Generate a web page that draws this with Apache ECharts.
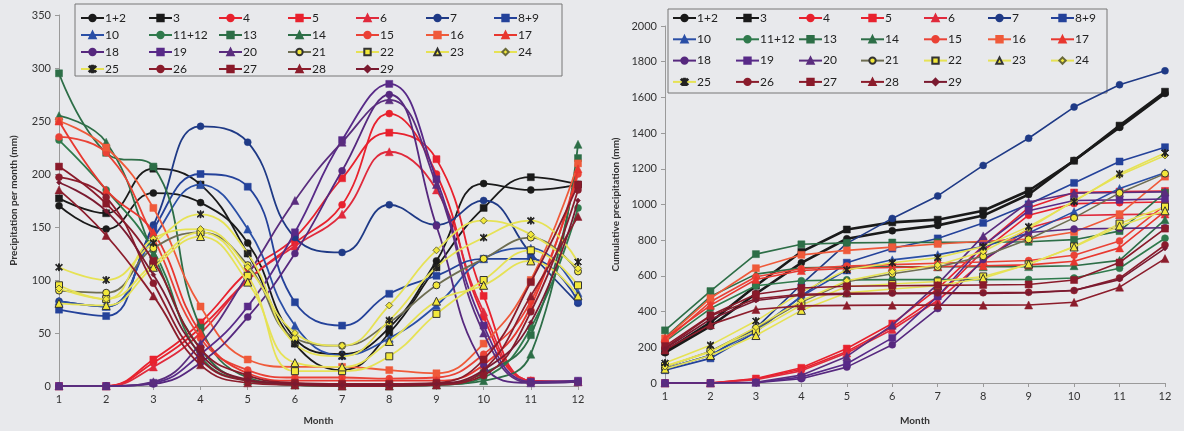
<!DOCTYPE html>
<html><head><meta charset="utf-8">
<script src="https://cdn.jsdelivr.net/npm/echarts@6/dist/echarts.min.js"></script>
<style>html,body{margin:0;padding:0;background:#e8e9ec;}#c{width:1184px;height:431px;}</style>
</head><body><div id="c"></div>
<script>
const months = ['1','2','3','4','5','6','7','8','9','10','11','12'];
const seriesNames = ['1+2','3','4','5','6','7','8+9','10','11+12','13','14','15','16','17','18','19','20','21','22','23','24','25','26','27','28','29'];
const leftTicks = [0,50,100,150,200,250,300,350];
const rightTicks = [0,200,400,600,800,1000,1200,1400,1600,1800,2000];

// Monthly precipitation (mm)
const p1_2  = [170,148,182,173,135,45,30,55,118,191,185,190];
const p3    = [177,163,205,190,125,40,15,50,112,168,197,190];
const p4    = [0,0,22,55,100,135,171,257,200,65,5,4];
const p5    = [0,0,25,60,108,140,196,239,214,85,5,4];
const p6    = [0,0,18,50,100,132,162,221,185,70,5,4];
const p7    = [80,75,152,245,230,140,126,171,152,175,125,78];
const p8_9  = [72,66,148,200,188,79,57,87,104,120,120,80];
const p10   = [80,75,140,190,148,57,29,45,76,120,130,88];
const p11_12= [232,185,128,28,5,1,0,0,1,8,55,168];
const p13   = [295,220,207,55,8,2,1,1,2,12,48,215];
const p14   = [255,230,125,35,5,1,0,0,1,5,30,228];
const p15   = [235,220,140,45,15,8,8,7,8,30,80,200];
const p16   = [250,225,168,75,25,18,18,15,12,40,100,210];
const p17   = [250,185,145,50,12,5,5,5,5,20,75,205];
const p18   = [0,0,2,22,65,125,203,275,151,20,3,4];
const p19   = [0,0,3,30,75,145,232,285,195,57,4,5];
const p20   = [0,0,4,40,105,175,230,270,190,50,3,4];
const p21   = [90,88,130,145,114,45,38,60,95,120,140,108];
const p22   = [95,82,115,145,104,14,14,28,68,100,128,95];
const p23   = [78,76,112,141,98,22,18,42,80,95,118,85];
const p24   = [92,82,139,148,112,50,38,76,128,156,143,111];
const p25   = [112,100,135,162,125,40,28,62,112,140,156,117];
const p26   = [197,178,97,25,5,2,1,1,2,10,70,185];
const p27   = [207,172,118,35,10,3,2,2,3,25,98,190];
const p28   = [185,142,85,20,3,1,0,0,1,15,85,160];
const p29   = [192,165,105,30,6,2,1,1,2,15,60,175];

// Cumulative precipitation (mm)
const c1_2  = [170,318,500,673,808,853,883,938,1056,1247,1432,1622];
const c3    = [177,340,545,735,860,900,915,965,1077,1245,1442,1632];
const c4    = [0,0,22,77,177,312,483,740,940,1005,1010,1014];
const c5    = [0,0,25,85,193,333,529,768,982,1067,1072,1076];
const c6    = [0,0,18,68,168,300,462,683,868,938,943,947];
const c7    = [80,155,307,552,782,922,1048,1219,1371,1546,1671,1749];
const c8_9  = [72,138,286,486,674,753,810,897,1001,1121,1241,1321];
const c10   = [80,155,295,485,633,690,719,764,840,960,1090,1178];
const c11_12= [232,417,545,573,578,579,579,579,580,588,643,811];
const c13   = [295,515,722,777,785,787,788,789,791,803,851,1066];
const c14   = [255,485,610,645,650,651,651,651,652,657,687,915];
const c15   = [235,455,595,640,655,663,671,678,686,716,796,996];
const c16   = [250,475,643,718,743,761,779,794,806,846,946,1156];
const c17   = [250,435,580,630,642,647,652,657,662,682,757,962];
const c18   = [0,0,2,24,89,214,417,692,843,863,866,870];
const c19   = [0,0,3,33,108,253,485,770,965,1022,1026,1031];
const c20   = [0,0,4,44,149,324,554,824,1014,1064,1067,1071];
const c21   = [90,178,308,453,567,612,650,710,805,925,1065,1173];
const c22   = [95,177,292,437,541,555,569,597,665,765,893,988];
const c23   = [78,154,266,407,505,527,545,587,667,762,880,965];
const c24   = [92,174,313,461,573,623,661,737,865,1021,1164,1275];
const c25   = [112,212,347,509,634,674,702,764,876,1016,1172,1289];
const c26   = [197,375,472,497,502,504,505,506,508,518,588,773];
const c27   = [207,379,497,532,542,545,547,549,552,577,675,865];
const c28   = [185,327,412,432,435,436,436,436,437,452,537,697];
const c29   = [192,357,462,492,498,500,501,502,504,519,579,754];

const monthly = [p1_2,p3,p4,p5,p6,p7,p8_9,p10,p11_12,p13,p14,p15,p16,p17,p18,p19,p20,p21,p22,p23,p24,p25,p26,p27,p28,p29];
const cumulative = [c1_2,c3,c4,c5,c6,c7,c8_9,c10,c11_12,c13,c14,c15,c16,c17,c18,c19,c20,c21,c22,c23,c24,c25,c26,c27,c28,c29];

const STAR = 'path://M4.4,0L5.6,0L5.6,10L4.4,10Z M0.6,1.5L1.5,0.6L9.4,8.5L8.5,9.4Z M8.5,0.6L9.4,1.5L1.5,9.4L0.6,8.5Z';
const Y = '#f2e83a', YL = '#e6e255';
const styles = [
  {c:'#1a1a1a', s:'circle'}, {c:'#1a1a1a', s:'rect'},
  {c:'#e8222e', s:'circle'}, {c:'#e8222e', s:'rect'}, {c:'#e02a3c', s:'triangle'},
  {c:'#1f3a86', s:'circle'}, {c:'#24429a', s:'rect'}, {c:'#2a4fa6', s:'triangle'},
  {c:'#2f7a4c', s:'circle'}, {c:'#2d6e47', s:'rect'}, {c:'#2d6e47', s:'triangle'},
  {c:'#ea4236', s:'circle'}, {c:'#ef5a3a', s:'rect'}, {c:'#e8372f', s:'triangle'},
  {c:'#56287e', s:'circle'}, {c:'#582a88', s:'rect'}, {c:'#5a2d7e', s:'triangle'},
  {c:'#6e6e52', s:'circle', f:Y, b:'#333'}, {c:YL, s:'rect', f:Y, b:'#333'},
  {c:YL, s:'triangle', f:Y, b:'#333'}, {c:YL, s:'diamond', f:Y, b:'#6a6a3a'},
  {c:YL, s:STAR, f:'#222', b:'#222'},
  {c:'#8a1c2c', s:'circle'}, {c:'#8a1a2a', s:'rect'}, {c:'#8c1d2c', s:'triangle'}, {c:'#7a1a30', s:'diamond', small:true}
];

const series = [];
seriesNames.forEach((n, i) => {
  const st = styles[i];
  const base = {
    name: n, type: 'line', symbol: st.s,
    itemStyle: {color: st.f || st.c, borderColor: st.b || st.c, borderWidth: st.b ? 1 : 0.5},
    z: 2 + i, animation: false
  };
  series.push(Object.assign({}, base, {
    xAxisIndex: 0, yAxisIndex: 0, smooth: 0.45, data: monthly[i],
    symbolSize: st.small ? 5 : (st.s === 'triangle' ? 8 : 7),
    lineStyle: {color: st.c, width: 1.8}
  }));
  series.push(Object.assign({}, base, {
    xAxisIndex: 1, yAxisIndex: 1, smooth: false, data: cumulative[i],
    symbolSize: st.small ? 5 : (st.s === 'triangle' ? 8 : 7),
    lineStyle: {color: st.c, width: i < 2 ? 2.6 : 1.6}
  }));
});

const FONT = 'Lato, "Open Sans", sans-serif';
function legends(xs, top, gap) {
  const out = [];
  for (let c = 0; c < 7; c++) {
    const d = [];
    for (let r = 0; r < 4; r++) { const k = c + 7 * r; if (k < seriesNames.length) d.push(seriesNames[k]); }
    out.push({
      data: d, orient: 'vertical', left: xs[c], top: top, padding: 0, itemGap: gap,
      itemWidth: 23, itemHeight: 8, selectedMode: false,
      textStyle: {fontSize: 12, lineHeight: 14, color: '#222', fontFamily: FONT, padding: [0, 0, 0, -4]}
    });
  }
  return out;
}

const axisCommon = {
  axisLine: {show: true, lineStyle: {color: '#9a9a9a'}},
  axisTick: {show: true, lineStyle: {color: '#9a9a9a'}, length: 4},
  axisLabel: {color: '#333', fontSize: 11, fontFamily: FONT, formatter: v => String(v)},
  splitLine: {show: false},
  nameTextStyle: {color: '#333', fontSize: 10, fontWeight: 'bold', fontFamily: FONT}
};

const option = {
  backgroundColor: '#e8e9ec',
  animation: false,
  grid: [
    {left: 59, top: 15, width: 519, height: 373},
    {left: 665, top: 26, width: 500, height: 358}
  ],
  xAxis: [
    Object.assign({}, axisCommon, {gridIndex: 0, type: 'category', data: months, boundaryGap: false,
      name: 'Month', nameLocation: 'middle', nameGap: 30}),
    Object.assign({}, axisCommon, {gridIndex: 1, type: 'category', data: months, boundaryGap: false,
      name: 'Month', nameLocation: 'middle', nameGap: 33})
  ],
  yAxis: [
    Object.assign({}, axisCommon, {gridIndex: 0, type: 'value', min: leftTicks[0], max: leftTicks[leftTicks.length-1], interval: 50,
      name: 'Precipitation per month (mm)', nameLocation: 'middle', nameGap: 40}),
    Object.assign({}, axisCommon, {gridIndex: 1, type: 'value', min: rightTicks[0], max: rightTicks[rightTicks.length-1], interval: 200,
      name: 'Cumulative precipitation (mm)', nameLocation: 'middle', nameGap: 44})
  ],
  legend: legends([80,148,218,287,355,425,493], 11, 3).concat(legends([672,735,798,860,923,987,1050], 11, 7.3)),
  graphic: [
    {type: 'rect', shape: {x: 75, y: 4, width: 487, height: 72}, style: {fill: 'none', stroke: '#777', lineWidth: 1}, z: 100},
    {type: 'rect', shape: {x: 668, y: 9, width: 439, height: 84}, style: {fill: '#e8e9ec', stroke: '#777', lineWidth: 1}, z: 0}
  ],
  series: series
};
const chart = echarts.init(document.getElementById('c'), null, {renderer: 'canvas'});
chart.setOption(option);
</script></body></html>
